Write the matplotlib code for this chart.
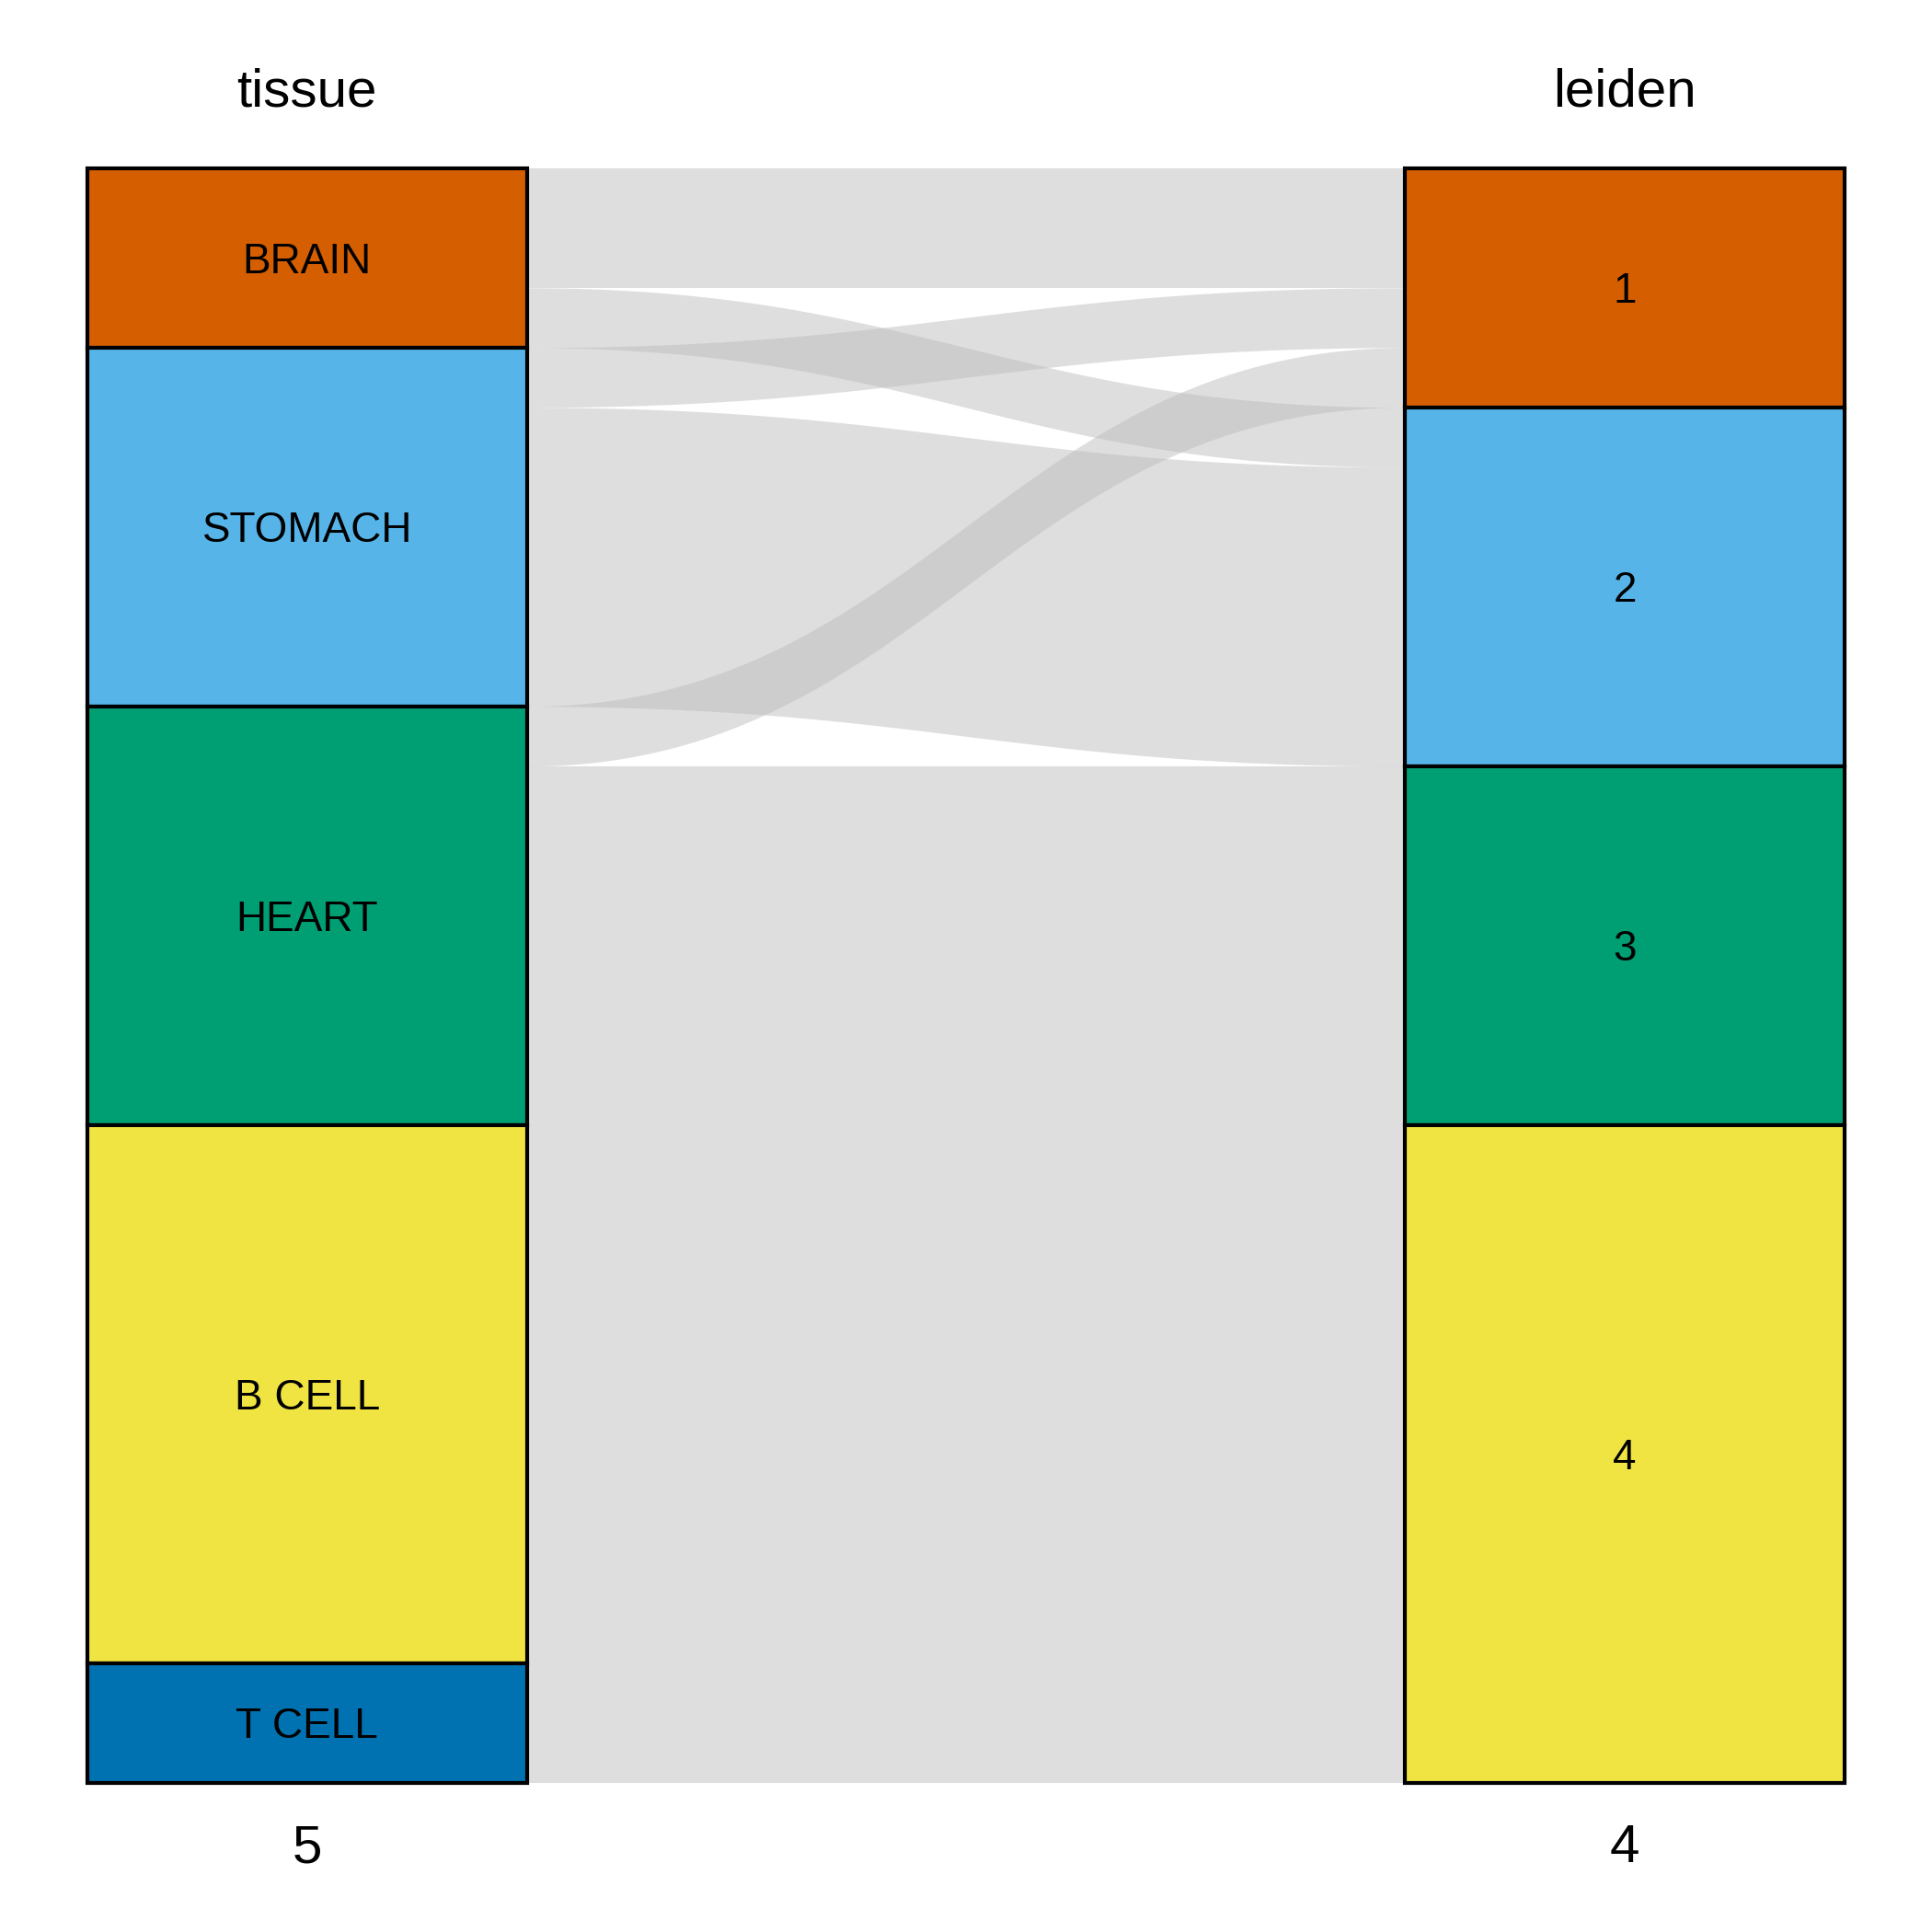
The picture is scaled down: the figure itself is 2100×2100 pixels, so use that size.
import numpy as np
import matplotlib.pyplot as plt
from matplotlib.patches import Rectangle, Polygon

plt.rcParams['font.family'] = ['Liberation Sans', 'DejaVu Sans']

# ─── Data ─────────────────────────────────────────────────────────────────────

axis_names = ['tissue', 'leiden']
tissue = ['BRAIN', 'STOMACH', 'HEART', 'B CELL', 'T CELL']
leiden = ['1', '2', '3', '4']

flow_src = ['BRAIN', 'BRAIN', 'STOMACH', 'STOMACH', 'HEART', 'HEART', 'B CELL', 'T CELL']
flow_dst = ['1', '2', '1', '2', '1', '3', '4', '4']
flow_n = [2, 1, 1, 5, 1, 6, 9, 2]

tissue_colors = ['#D55E00', '#56B4E9', '#009E73', '#F0E442', '#0072B2']
leiden_colors = ['#D55E00', '#56B4E9', '#009E73', '#F0E442']

# ─── Layout helpers ───────────────────────────────────────────────────────────

WIDTH = 1 / 3
total = sum(flow_n)
TXT_DY = -0.06   # nudge so text centres sit like the R output


def stratum_spans(cats, col):
    # stack strata from the top down, first category on top
    spans = {}
    top = total
    for c in cats:
        h = sum(n for n, k in zip(flow_n, col) if k == c)
        spans[c] = (top - h, top)
        top -= h
    return spans


def curve(x0, y0, x1, y1, a=0.45, n=120):
    t = np.linspace(0, 1, n)
    dx = x1 - x0
    px = [x0, x0 + a * dx, x1 - a * dx, x1]
    py = [y0, y0, y1, y1]
    b = [(1 - t) ** 3, 3 * (1 - t) ** 2 * t, 3 * (1 - t) * t ** 2, t ** 3]
    xs = sum(bi * p for bi, p in zip(b, px))
    ys = sum(bi * p for bi, p in zip(b, py))
    return xs, ys


left_spans = stratum_spans(tissue, flow_src)
right_spans = stratum_spans(leiden, flow_dst)

# lode positions: left side ordered by destination, right side by source
idx = list(range(len(flow_n)))
left_pos, right_pos = {}, {}
for c in tissue:
    top = left_spans[c][1]
    for i in sorted([i for i in idx if flow_src[i] == c], key=lambda i: leiden.index(flow_dst[i])):
        left_pos[i] = (top - flow_n[i], top)
        top -= flow_n[i]
for c in leiden:
    top = right_spans[c][1]
    for i in sorted([i for i in idx if flow_dst[i] == c], key=lambda i: tissue.index(flow_src[i])):
        right_pos[i] = (top - flow_n[i], top)
        top -= flow_n[i]

# ─── Plot ─────────────────────────────────────────────────────────────────────

fig = plt.figure(figsize=(7, 7), dpi=300)
ax = fig.add_axes([0, 0, 1, 1])
ax.set_xlim(0.767, 2.233)
ax.set_ylim(-2.49, 29.82)
ax.axis('off')

x0 = 1 + WIDTH / 2
x1 = 2 - WIDTH / 2
for i in idx:
    lb, lt = left_pos[i]
    rb, rt = right_pos[i]
    ux, uy = curve(x0, lt, x1, rt)
    bx, by = curve(x1, rb, x0, lb)
    pts = np.column_stack([np.concatenate([ux, bx]), np.concatenate([uy, by])])
    ax.add_patch(Polygon(pts, closed=True, facecolor='#BEBEBE', alpha=0.5,
                         edgecolor='none', zorder=1))

for xc, cats, cols, spans in [(1, tissue, tissue_colors, left_spans),
                              (2, leiden, leiden_colors, right_spans)]:
    for c, col in zip(cats, cols):
        lo, hi = spans[c]
        ax.add_patch(Rectangle((xc - WIDTH / 2, lo), WIDTH, hi - lo,
                               facecolor=col, edgecolor='black', linewidth=1.0,
                               zorder=2))
        ax.text(xc, (lo + hi) / 2 + TXT_DY, c, ha='center', va='center',
                fontsize=11, zorder=3)

for xc, name, cats in [(1, axis_names[0], tissue), (2, axis_names[1], leiden)]:
    ax.text(xc, 28.34 + TXT_DY, name, ha='center', va='center', fontsize=14)
    ax.text(xc, -1.03 + TXT_DY, str(len(cats)), ha='center', va='center',
            fontsize=14)

fig.savefig('out.png', dpi=300)
